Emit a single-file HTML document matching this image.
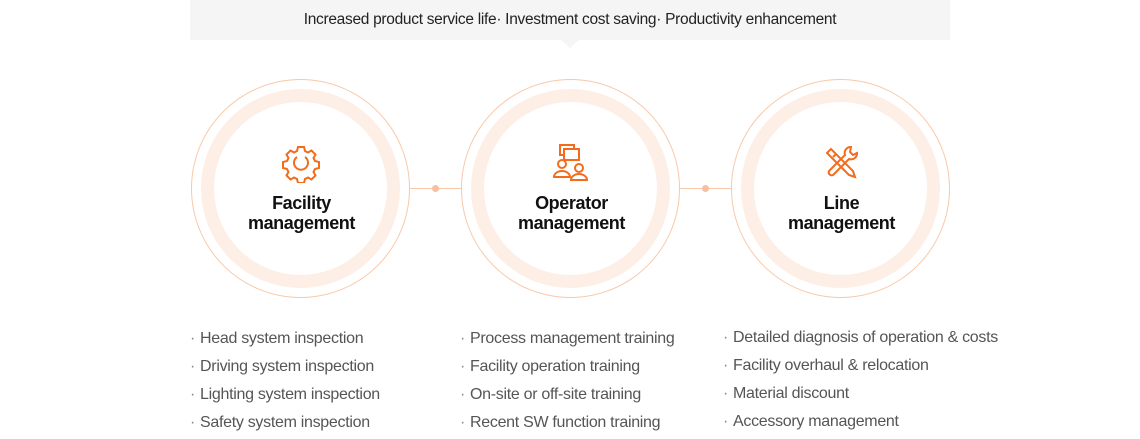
<!DOCTYPE html>
<html><head><meta charset="utf-8"><style>
body{margin:0;width:1140px;height:432px;background:#fff;position:relative;overflow:hidden;font-family:"Liberation Sans","Noto Sans CJK KR",sans-serif}
.top{position:absolute;left:190px;top:0;width:760px;height:40px;background:#f5f5f5;text-align:center;line-height:40px;font-size:15.5px;color:#222;letter-spacing:-0.3px}
.notch{position:absolute;left:561px;top:40px;width:0;height:0;border-left:9px solid transparent;border-right:9px solid transparent;border-top:8px solid #f5f5f5}
.c{position:absolute;top:79px;width:219px;height:219px;border:1px solid #f8c8a8;border-radius:50%;box-sizing:border-box}
.c .r{position:absolute;left:9px;top:9px;width:199px;height:199px;border:13px solid #fdeee6;border-radius:50%;box-sizing:border-box}
.t{position:absolute;left:0;width:219px;top:113px;text-align:center;font-weight:bold;font-size:18px;line-height:20px;color:#111;letter-spacing:-0.4px}
.ic{position:absolute;left:89px;top:63px}
.ln{position:absolute;top:188px;height:1px;background:#f8c8a8;width:52px}
.dot{position:absolute;top:185px;width:7px;height:7px;border-radius:50%;background:#f8c0a0}
ul{position:absolute;top:327px;margin:0;padding:0;list-style:none;font-size:16px;color:#555;letter-spacing:-0.3px}
li{height:28px;line-height:24px}
li:before{content:"·";margin-right:5px;color:#888}
</style></head><body>
<div class="top">Increased product service life· Investment cost saving· Productivity enhancement</div>
<div class="notch"></div>

<div class="c" style="left:191px"><div class="r"></div>
<svg class="ic" width="40" height="40" viewBox="0 0 40 40" fill="none" stroke="#f26c1c" stroke-width="2">
<path d="M17 4h6l1 4 3 1.5 3.5-2 4 4-2 3.5 1.5 3 4 1v6l-4 1-1.5 3 2 3.5-4 4-3.5-2-3 1.5-1 4h-6l-1-4-3-1.5-3.5 2-4-4 2-3.5-1.5-3-4-1v-6l4-1 1.5-3-2-3.5 4-4 3.5 2 3-1.5z"/>
<path d="M24 14a7 7 0 1 1-8 0"/></svg>
<div class="t">Facility<br>management</div></div>

<div class="ln" style="left:409px"></div><div class="dot" style="left:432px"></div>

<div class="c" style="left:461px"><div class="r"></div>
<svg class="ic" width="40" height="40" viewBox="0 0 40 40" fill="none" stroke="#f26c1c" stroke-width="2">
<rect x="9" y="2" width="14" height="10"/><rect x="13" y="6" width="15" height="11" fill="#fff"/>
<circle cx="11" cy="21" r="4"/><path d="M3 34a8 6 0 0 1 16 0z"/>
<circle cx="28" cy="25" r="4"/><path d="M20 37a8 6 0 0 1 16 0z"/></svg>
<div class="t">Operator<br>management</div></div>

<div class="ln" style="left:679px"></div><div class="dot" style="left:702px"></div>

<div class="c" style="left:731px"><div class="r"></div>
<svg class="ic" width="40" height="40" viewBox="0 0 40 40" fill="none" stroke="#f26c1c" stroke-width="2">
<path d="M6 10l4-4 22 22 2 6-6-2z"/><path d="M12 14l3-3"/>
<path d="M30 4a6 6 0 0 0-6 8L8 28a3 3 0 0 0 4 4l16-16a6 6 0 0 0 8-6l-4 2-3-3z"/></svg>
<div class="t">Line<br>management</div></div>

<ul style="left:190px"><li>Head system inspection</li><li>Driving system inspection</li><li>Lighting system inspection</li><li>Safety system inspection</li></ul>
<ul style="left:460px"><li>Process management training</li><li>Facility operation training</li><li>On-site or off-site training</li><li>Recent SW function training</li></ul>
<ul style="left:723px;top:326px"><li>Detailed diagnosis of operation &amp; costs</li><li>Facility overhaul &amp; relocation</li><li>Material discount</li><li>Accessory management</li></ul>
</body></html>
